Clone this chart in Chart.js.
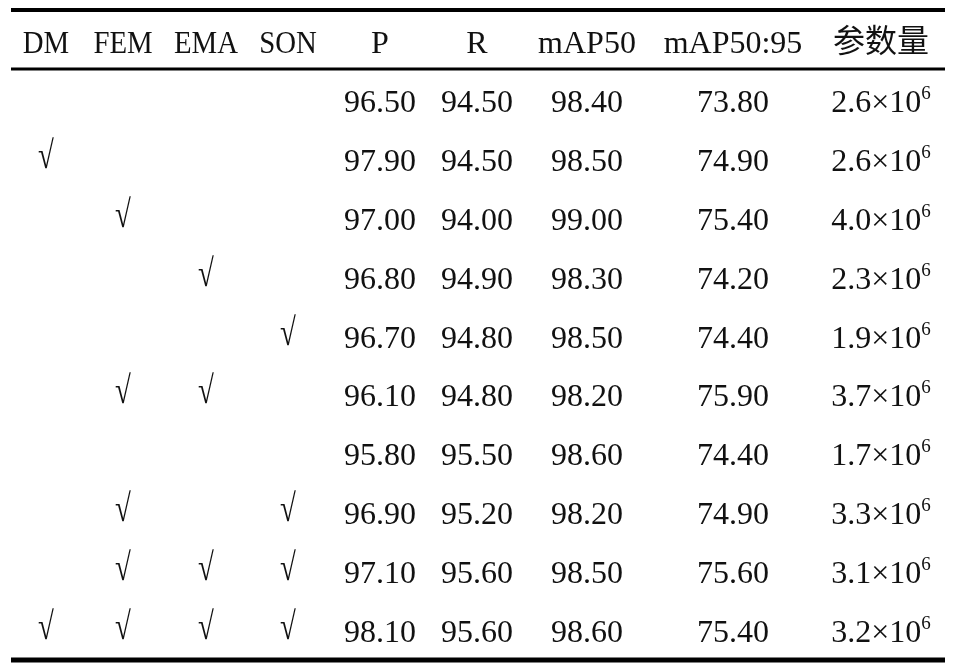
<!DOCTYPE html>
<html lang="zh">
<head>
    <meta charset="UTF-8">
    <title>消融实验结果</title>
    <script src="https://cdn.jsdelivr.net/npm/chart.js"></script>
    <style>
        html, body {
            margin: 0;
            padding: 0;
            background: #fff;
        }

        .wrap {
            position: relative;
            width: 953px;
            height: 663px;
        }
    </style>
</head>
<body>
    <div class="wrap">
        <canvas id="tableChart"></canvas>
    </div>

    <script>
        // table data
        const headers = ['DM', 'FEM', 'EMA', 'SON', 'P', 'R', 'mAP50', 'mAP50:95', '参数量'];
        const dm = [0, 1, 0, 0, 0, 0, 0, 0, 0, 1];
        const fem = [0, 0, 1, 0, 0, 1, 0, 1, 1, 1];
        const ema = [0, 0, 0, 1, 0, 1, 0, 0, 1, 1];
        const son = [0, 0, 0, 0, 1, 0, 0, 1, 1, 1];
        const precision = [96.50, 97.90, 97.00, 96.80, 96.70, 96.10, 95.80, 96.90, 97.10, 98.10];
        const recall = [94.50, 94.50, 94.00, 94.90, 94.80, 94.80, 95.50, 95.20, 95.60, 95.60];
        const map50 = [98.40, 98.50, 99.00, 98.30, 98.50, 98.20, 98.60, 98.20, 98.50, 98.60];
        const map5095 = [73.80, 74.90, 75.40, 74.20, 74.40, 75.90, 74.40, 74.90, 75.60, 75.40];
        const params = [2.6, 2.6, 4.0, 2.3, 1.9, 3.7, 1.7, 3.3, 3.1, 3.2]; // x10^6

        // layout (pixels on the x scale, row units on the y scale)
        const colCenters = [46, 123, 206, 288, 380, 477, 587, 733, 881];
        const ruleLeft = 11;
        const ruleRight = 945;
        const rules = [
            { y: -0.543, width: 4 },
            { y: 0.458, width: 3 },
            { y: 10.49, width: 5 }
        ];
        const serif = '"Liberation Serif", "DejaVu Serif", serif';
        const cjk = '"Noto Sans CJK SC", sans-serif';
        const textColor = '#111';

        const checkCols = [dm, fem, ema, son];
        const numCols = [precision, recall, map50, map5095];

        const datasets = [];

        rules.forEach(r => {
            datasets.push({
                type: 'line',
                kind: 'rule',
                data: [{ x: ruleLeft, y: r.y }, { x: ruleRight, y: r.y }],
                borderColor: '#000',
                borderWidth: r.width,
                pointRadius: 0
            });
        });

        datasets.push({
            kind: 'header',
            data: headers.map((h, c) => ({ x: colCenters[c], y: 0, text: h }))
        });

        checkCols.forEach((col, c) => {
            const pts = [];
            col.forEach((v, i) => {
                if (v) pts.push({ x: colCenters[c], y: i + 1, text: '\u221A' });
            });
            datasets.push({ kind: 'check', data: pts });
        });

        numCols.forEach((col, k) => {
            datasets.push({
                kind: 'num',
                data: col.map((v, i) => ({ x: colCenters[4 + k], y: i + 1, text: v.toFixed(2) }))
            });
        });

        datasets.push({
            kind: 'param',
            data: params.map((v, i) => ({ x: colCenters[8], y: i + 1, text: v.toFixed(1) + '\u00D710', sup: '6' }))
        });

        datasets.forEach(ds => {
            if (ds.kind !== 'rule') {
                ds.type = 'scatter';
                ds.pointRadius = 0;
                ds.pointHoverRadius = 0;
            }
        });

        const tableText = {
            id: 'tableText',
            afterDatasetsDraw(chart) {
                const ctx = chart.ctx;
                ctx.save();
                ctx.fillStyle = textColor;
                ctx.textBaseline = 'alphabetic';
                chart.data.datasets.forEach((ds, di) => {
                    if (ds.kind === 'rule') return;
                    const meta = chart.getDatasetMeta(di);
                    meta.data.forEach((pt, i) => {
                        const cell = ds.data[i];
                        const base = pt.y + 11;
                        if (ds.kind === 'param') {
                            ctx.font = '32px ' + serif;
                            const w1 = ctx.measureText(cell.text).width;
                            ctx.font = '19px ' + serif;
                            const w2 = ctx.measureText(cell.sup).width;
                            const start = pt.x - (w1 + w2) / 2;
                            ctx.textAlign = 'left';
                            ctx.font = '32px ' + serif;
                            ctx.fillText(cell.text, start, base);
                            ctx.font = '19px ' + serif;
                            ctx.fillText(cell.sup, start + w1, base - 13);
                            return;
                        }
                        ctx.textAlign = 'center';
                        if (ds.kind === 'check') {
                            // the tick is tall and narrow in the source
                            ctx.save();
                            ctx.translate(pt.x, base - 3);
                            ctx.scale(0.9, 1.22);
                            ctx.font = '32px ' + serif;
                            ctx.fillText(cell.text, 0, 0);
                            ctx.restore();
                            return;
                        }
                        const isCjk = /[\u4e00-\u9fff]/.test(cell.text);
                        ctx.font = '32px ' + (isCjk ? cjk : serif);
                        if (ds.kind === 'header' && !isCjk && cell.text.length <= 3 && cell.text.length > 1) {
                            ctx.save();
                            ctx.translate(pt.x, base);
                            ctx.scale(0.9, 1);
                            ctx.fillText(cell.text, 0, 0);
                            ctx.restore();
                            return;
                        }
                        ctx.fillText(cell.text, pt.x, isCjk ? base - 1 : base);
                    });
                });
                ctx.restore();
            }
        };

        new Chart(document.getElementById('tableChart'), {
            data: { datasets: datasets },
            options: {
                responsive: true,
                maintainAspectRatio: false,
                animation: false,
                layout: { padding: 0 },
                plugins: {
                    legend: { display: false },
                    tooltip: { enabled: false }
                },
                events: [],
                scales: {
                    x: { type: 'linear', min: 0, max: 953, display: false },
                    y: { type: 'linear', min: -0.713, max: 10.543, reverse: true, display: false }
                }
            },
            plugins: [tableText]
        });
    </script>
</body>
</html>
